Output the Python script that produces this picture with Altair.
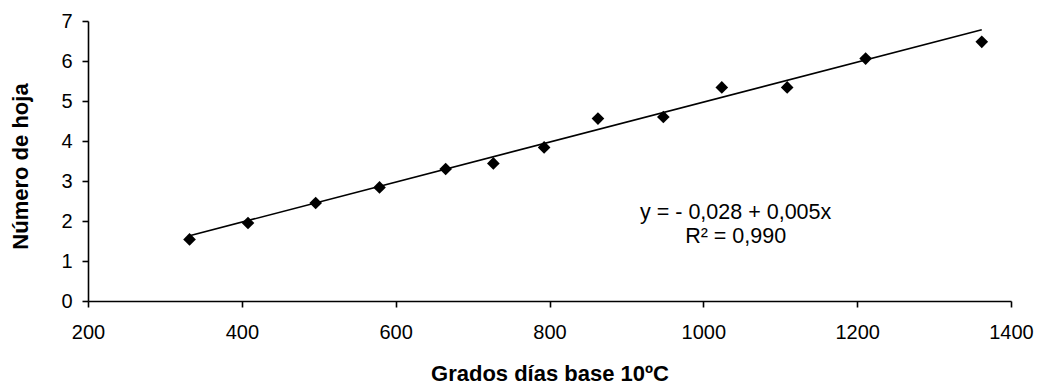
import altair as alt
import pandas as pd

# Observed leaf number against accumulated growing degree-days (base 10 ºC)
grados_dias = [332, 408, 496, 579, 665, 727, 793, 863, 948, 1024, 1109, 1211, 1362]
numero_hoja = [1.54, 1.95, 2.45, 2.84, 3.30, 3.44, 3.84, 4.56, 4.60, 5.34, 5.34, 6.06, 6.48]

# Fitted regression: y = -0.028 + 0.005x
intercepto = -0.028
pendiente = 0.005
ecuacion = ["y = - 0,028 + 0,005x", "R² = 0,990"]
ecuacion_x = [1042, 1042]
ecuacion_y = [2.2, 1.6]

FONT = "Liberation Sans"

puntos = pd.DataFrame({"x": grados_dias, "y": numero_hoja})
x_fit = [min(grados_dias), max(grados_dias)]
ajuste = pd.DataFrame({"x": x_fit, "y": [intercepto + pendiente * v for v in x_fit]})
etiquetas = pd.DataFrame({"x": ecuacion_x, "y": ecuacion_y, "t": ecuacion})

W, H = 923, 280

x_enc = alt.X(
    "x:Q",
    title="Grados días base 10ºC",
    scale=alt.Scale(domain=[200, 1400], nice=False, zero=False),
    axis=alt.Axis(values=[200, 400, 600, 800, 1000, 1200, 1400], format="d", grid=False,
                  tickSize=6, labelPadding=15, labelFlush=False,
                  titleX=W / 2, titleY=79, titleBaseline="alphabetic", titleAlign="center"),
)
y_enc = alt.Y(
    "y:Q",
    title="Número de hoja",
    scale=alt.Scale(domain=[0, 7], nice=False),
    axis=alt.Axis(values=list(range(0, 8)), format="d", grid=False,
                  tickSize=6, labelPadding=10, labelFlush=False,
                  titleX=-61, titleY=145, titleBaseline="alphabetic", titleAlign="center",
                  titleAngle=270),
)

linea = alt.Chart(ajuste).mark_line(color="black", strokeWidth=1.6).encode(x=x_enc, y=y_enc)
marcas = alt.Chart(puntos).mark_point(
    shape="diamond", filled=True, color="black", size=160, opacity=1
).encode(x=x_enc, y=y_enc)
texto = alt.Chart(etiquetas).mark_text(
    font=FONT, fontSize=21.5, color="black", align="center", baseline="middle"
).encode(x=x_enc, y=y_enc, text="t:N")

chart = (
    alt.layer(linea, marcas, texto)
    .properties(
        width=W, height=H,
        background="white",
        autosize=alt.AutoSizeParams(type="none"),
        padding={"left": 88, "top": 21, "right": 28, "bottom": 84},
    )
    .configure_view(stroke=None)
    .configure_axis(
        domainColor="black", domainWidth=1.6, tickColor="black", tickWidth=1.6,
        labelFont=FONT, labelFontSize=20, labelColor="black",
        titleFont=FONT, titleFontSize=22, titleFontWeight="bold", titleColor="black",
    )
)

chart.save("out.html", embed_options={"renderer": "svg", "actions": False})
